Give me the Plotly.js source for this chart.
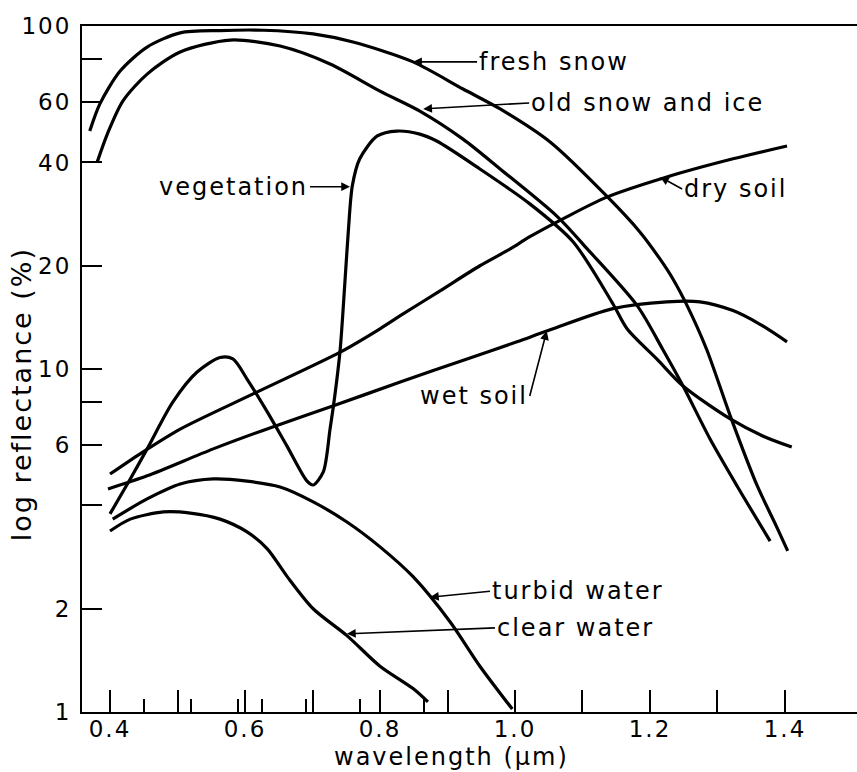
<!DOCTYPE html>
<html>
<head>
<meta charset="utf-8">
<script src="https://cdn.plot.ly/plotly-3.0.1.min.js"></script>
<style>
  html, body { margin: 0; padding: 0; background: #ffffff; }
  #chart { width: 857px; height: 772px; }
  text { letter-spacing: 2px; }
</style>
</head>
<body>
<div id="chart"></div>
<script>
// ---- data (wavelength in µm, reflectance in %) ----
const freshSnowX = [0.370,0.385,0.415,0.455,0.504,0.563,0.627,0.701,0.760,0.849,0.923,0.978,1.052,1.136,1.185,1.215,1.234,1.255,1.284,1.319,1.359,1.387,1.404];
const freshSnowY = [49.4,59.3,73.9,86.8,95.5,97.0,97.2,94.8,89.8,78.6,65.5,57.3,45.9,31.9,25.1,20.9,18.3,15.3,11.4,7.29,4.56,3.49,2.95];

const oldSnowX = [0.381,0.396,0.419,0.455,0.504,0.578,0.652,0.726,0.800,0.859,0.923,0.978,1.062,1.107,1.181,1.219,1.249,1.289,1.329,1.378];
const oldSnowY = [40.1,48.4,60.4,72.4,84.0,91.0,87.4,77.5,64.6,56.5,46.8,38.3,27.9,22.4,15.3,11.4,8.92,6.25,4.56,3.15];

const vegetationX = [0.400,0.430,0.455,0.493,0.529,0.563,0.582,0.603,0.633,0.662,0.692,0.701,0.716,0.726,0.733,0.741,0.748,0.753,0.759,0.770,0.796,0.825,0.859,0.884,0.948,1.022,1.086,1.145,1.166,1.210,1.249,1.319,1.367,1.410];
const vegetationY = [3.78,4.78,5.85,8.01,9.80,10.8,10.7,9.35,7.50,5.97,4.71,4.59,5.01,6.68,8.34,11.4,17.9,25.1,34.2,41.0,47.8,49.4,48.4,46.2,38.3,30.3,23.5,15.5,13.1,10.7,8.92,7.15,6.38,5.92];

const drySoilX = [0.400,0.444,0.504,0.612,0.741,0.800,0.830,0.889,0.948,0.993,1.022,1.071,1.136,1.225,1.323,1.403];
const drySoilY = [4.94,5.65,6.68,8.46,11.2,13.1,14.3,16.9,20.0,22.4,24.3,27.4,31.7,36.3,41.0,44.7];

const wetSoilX = [0.397,0.455,0.553,0.641,0.730,0.830,0.929,1.003,1.047,1.145,1.225,1.274,1.323,1.363,1.403];
const wetSoilY = [4.47,4.88,5.85,6.78,7.80,9.16,10.7,12.0,12.9,15.0,15.7,15.7,14.8,13.5,12.0];

const turbidWaterX = [0.404,0.455,0.504,0.553,0.603,0.652,0.701,0.751,0.800,0.849,0.904,0.948,0.996];
const turbidWaterY = [3.65,4.18,4.62,4.78,4.71,4.53,4.10,3.58,3.03,2.48,1.83,1.36,1.02];

const clearWaterX = [0.400,0.430,0.479,0.519,0.563,0.603,0.633,0.662,0.701,0.751,0.800,0.849,0.871];
const clearWaterY = [3.37,3.65,3.83,3.80,3.65,3.35,2.99,2.49,2.00,1.67,1.36,1.17,1.07];

// ---- ticks ----
const xTickVals = [0.4,0.5,0.6,0.7,0.8,0.9,1.0,1.1,1.2,1.3,1.4];
const xTickText = ['0.4','','0.6','','0.8','','1.0','','1.2','','1.4'];
const xBandTicks = [0.45,0.52,0.59,0.625,0.69,0.77,0.865];
const yTickVals = [1,2,4,6,8,10,20,40,60,80,100];
const yTickText = ['1','2','','6','','10','20','40','60','','100'];

// ---- labels (name, arrow tip x, arrow tip y in %) ----
const labelNames = ['fresh snow','old snow and ice','vegetation','dry soil','wet soil','turbid water','clear water'];
const labelTipX  = [0.849, 0.864, 0.7556, 1.215, 1.047, 0.874, 0.751];
const labelTipY  = [78.6, 57.3, 34.0, 36.3, 12.9, 2.16, 1.69];

const FONT = 'DejaVu Sans, Verdana, sans-serif';
const lineStyle = {color: '#000000', width: 3.2, shape: 'spline', smoothing: 0.8};

const series = [
  [freshSnowX, freshSnowY, 'fresh snow'],
  [oldSnowX, oldSnowY, 'old snow and ice'],
  [vegetationX, vegetationY, 'vegetation'],
  [drySoilX, drySoilY, 'dry soil'],
  [wetSoilX, wetSoilY, 'wet soil'],
  [turbidWaterX, turbidWaterY, 'turbid water'],
  [clearWaterX, clearWaterY, 'clear water']
];

const traces = series.map(s => ({
  type: 'scatter', mode: 'lines', x: s[0], y: s[1], name: s[2],
  line: lineStyle, hoverinfo: 'x+y+name'
}));

// arrow offsets (pixels) and anchoring for each label
const labelStyle = [
  {ax: 64,  ay: 0,  xanchor: 'left'},
  {ax: 106, ay: -6, xanchor: 'left'},
  {ax: -40, ay: 0,  xanchor: 'right'},
  {ax: 22,  ay: 12, xanchor: 'left'},
  {ax: -17, ay: 65, xanchor: 'right'},
  {ax: 60,  ay: -6, xanchor: 'left'},
  {ax: 148, ay: -6, xanchor: 'left'}
];

const annotations = labelNames.map((t, i) => ({
  x: labelTipX[i], y: Math.log10(labelTipY[i]), xref: 'x', yref: 'y',
  text: t, showarrow: true, arrowhead: 2, arrowsize: 1.1, arrowwidth: 1.6,
  arrowcolor: '#000000', ax: labelStyle[i].ax, ay: labelStyle[i].ay,
  xanchor: labelStyle[i].xanchor, yanchor: 'middle',
  font: {family: FONT, size: 24, color: '#000000'}
}));

annotations.push({
  text: 'wavelength (µm)', xref: 'paper', yref: 'paper',
  x: 0.477, y: -0.066, xanchor: 'center', yanchor: 'middle', showarrow: false,
  font: {family: FONT, size: 24, color: '#000000'}
});
annotations.push({
  text: 'log reflectance (%)', xref: 'paper', yref: 'paper',
  x: -0.077, y: 0.4636, xanchor: 'center', yanchor: 'middle', showarrow: false,
  textangle: -90, font: {family: FONT, size: 27, color: '#000000'}
});

const layout = {
  width: 857, height: 772,
  margin: {l: 82, r: 0, t: 26, b: 60, pad: 0},
  paper_bgcolor: '#ffffff', plot_bgcolor: '#ffffff',
  showlegend: false,
  font: {family: FONT, color: '#000000'},
  xaxis: {
    range: [0.3585, 1.5067], showgrid: false, zeroline: false,
    showline: true, linecolor: '#000000', linewidth: 2, mirror: true,
    ticks: 'inside', ticklen: 22, tickwidth: 2, tickcolor: '#000000',
    tickmode: 'array', tickvals: xTickVals, ticktext: xTickText,
    ticklabelstandoff: -5,
    tickfont: {family: FONT, size: 23, color: '#000000'},
    minor: {tickmode: 'array', tickvals: xBandTicks, ticks: 'inside', ticklen: 13, tickwidth: 2, tickcolor: '#000000', showgrid: false}
  },
  yaxis: {
    type: 'log', range: [0, 2], showgrid: false, zeroline: false,
    showline: true, linecolor: '#000000', linewidth: 2, mirror: false,
    ticks: 'inside', ticklen: 20, tickwidth: 2, tickcolor: '#000000',
    tickmode: 'array', tickvals: yTickVals, ticktext: yTickText,
    ticklabelstandoff: 4,
    tickfont: {family: FONT, size: 23, color: '#000000'}
  },
  annotations: annotations
};

Plotly.newPlot('chart', traces, layout, {displayModeBar: false, staticPlot: true});
</script>
</body>
</html>
